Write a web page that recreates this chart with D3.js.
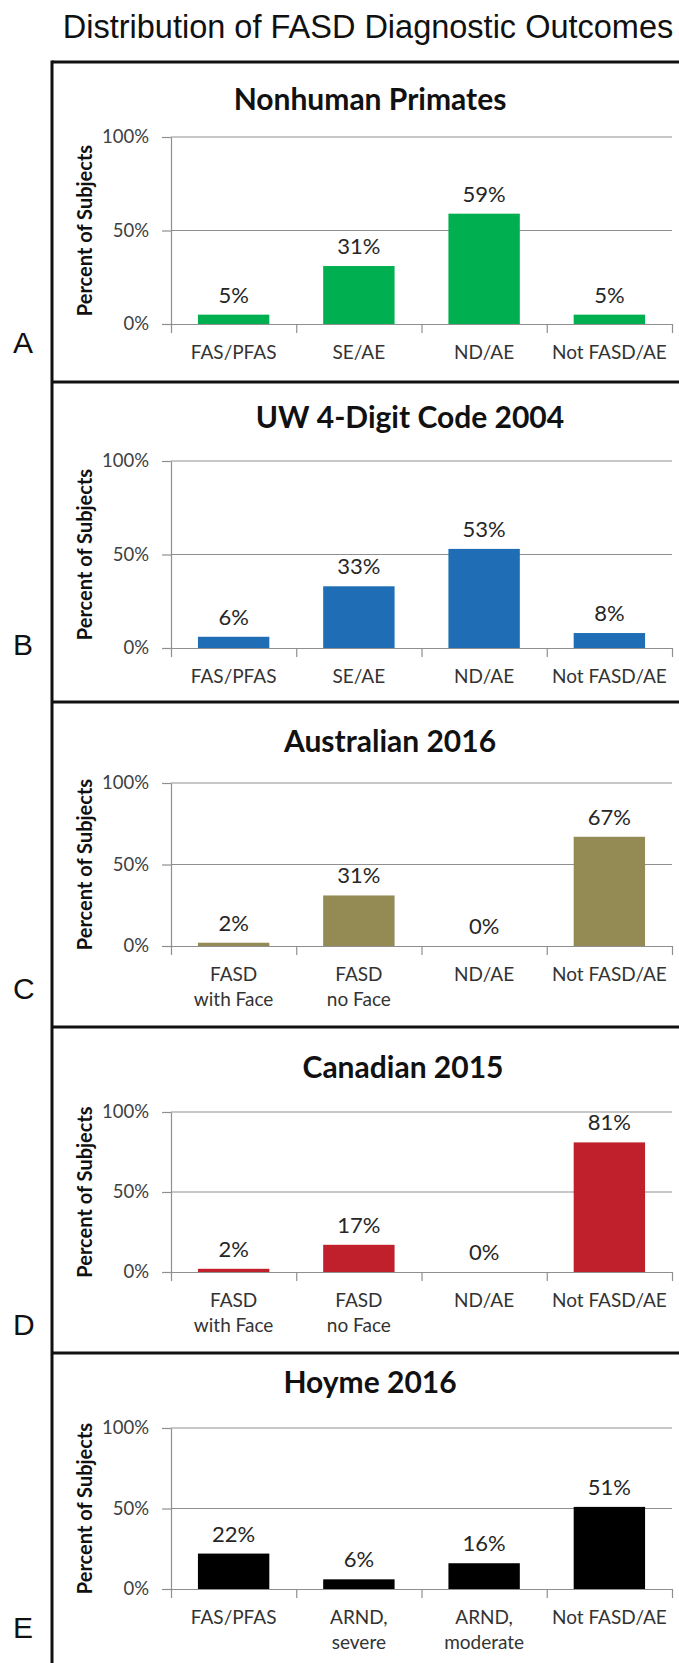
<!DOCTYPE html>
<html>
<head>
<meta charset="utf-8">
<script src="https://cdn.jsdelivr.net/npm/d3@7"></script>
<style>
  body { margin: 0; background: #fff; }
  svg { display: block; }
</style>
</head>
<body>
<script>
// data
const panelTitles = ["Nonhuman Primates", "UW 4-Digit Code 2004", "Australian 2016", "Canadian 2015", "Hoyme 2016"];
const panelLetters = ["A", "B", "C", "D", "E"];

const catsA = ["FAS/PFAS", "SE/AE", "ND/AE", "Not FASD/AE"];
const valsA = [5, 31, 59, 5];
const catsB = ["FAS/PFAS", "SE/AE", "ND/AE", "Not FASD/AE"];
const valsB = [6, 33, 53, 8];
const catsC = ["FASD\nwith Face", "FASD\nno Face", "ND/AE", "Not FASD/AE"];
const valsC = [2, 31, 0, 67];
const catsD = ["FASD\nwith Face", "FASD\nno Face", "ND/AE", "Not FASD/AE"];
const valsD = [2, 17, 0, 81];
const catsE = ["FAS/PFAS", "ARND,\nsevere", "ARND,\nmoderate", "Not FASD/AE"];
const valsE = [22, 6, 16, 51];

const barColors = ["#00b050", "#1f6db5", "#948a54", "#c01f2c", "#000000"];
const yTicks = [0, 50, 100];
const mainTitle = "Distribution of FASD Diagnostic Outcomes";
const yLabel = "Percent of Subjects";

const cats = [catsA, catsB, catsC, catsD, catsE];
const vals = [valsA, valsB, valsC, valsD, valsE];

// layout of each panel (pixels)
const layout = [
  {top: 137, bottom: 324, titleY: 110, titleX: 370, letterY: 353},
  {top: 461, bottom: 648, titleY: 428, titleX: 410, letterY: 655},
  {top: 783, bottom: 946, titleY: 752, titleX: 390, letterY: 999},
  {top: 1112, bottom: 1272, titleY: 1078, titleX: 403, letterY: 1335},
  {top: 1428, bottom: 1589, titleY: 1393, titleX: 370, letterY: 1638}
];
const separators = [382, 702, 1027, 1353];

var W = 679, H = 1663;
var plotLeft = 171, plotRight = 672;
var boxLeft = 52, boxTop = 62;
var font = "Lato, 'Open Sans', sans-serif";
var gridCol = "#8f8f8f";

var svg = d3.select('body')
    .append('svg')
    .attr('width', W)
    .attr('height', H);

svg.append('rect').attr('width', W).attr('height', H).attr('fill', '#fff');

svg.append('text')
    .attr('x', 368)
    .attr('y', 38)
    .attr('text-anchor', 'middle')
    .style('font-family', "'Liberation Sans', Arial, sans-serif")
    .style('font-size', '32.5px')
    .style('fill', '#111')
    .text(mainTitle);

// outer frame
svg.append('line').attr('x1', boxLeft).attr('x2', boxLeft).attr('y1', boxTop - 1.5).attr('y2', H)
    .style('stroke', '#111').style('stroke-width', 3);
svg.append('line').attr('x1', boxLeft).attr('x2', W).attr('y1', boxTop).attr('y2', boxTop)
    .style('stroke', '#111').style('stroke-width', 3);
separators.forEach((s)=>{
    svg.append('line').attr('x1', boxLeft).attr('x2', W).attr('y1', s).attr('y2', s)
        .style('stroke', '#111').style('stroke-width', 3);
});

layout.forEach((L, p)=>{
    let g = svg.append('g').attr('class', 'panel');
    let data = cats[p].map((c, i)=>({cat: c, val: vals[p][i]}));

    var yScale = d3.scaleLinear().domain([0, 100]).range([L.bottom, L.top]);
    var xScale = d3.scaleBand()
        .domain(cats[p])
        .range([plotLeft, plotRight])
        .paddingInner(0.43)
        .paddingOuter(0.215);
    var edge = d3.scaleLinear().domain([0, cats[p].length]).range([plotLeft, plotRight]);

    // gridlines
    g.selectAll('.grid')
        .data(yTicks.filter(t => t > 0))
        .enter().append('line')
        .attr('class', 'grid')
        .attr('x1', plotLeft).attr('x2', plotRight)
        .attr('y1', d => yScale(d)).attr('y2', d => yScale(d))
        .style('stroke', gridCol).style('stroke-width', 1.2);

    // y axis
    var yAxis = d3.axisLeft(yScale)
        .tickValues(yTicks)
        .tickFormat(d => d + '%')
        .tickSize(9)
        .tickSizeOuter(0)
        .tickPadding(13);
    var ya = g.append('g')
        .attr('transform', 'translate(' + plotLeft + ',0)')
        .call(yAxis);
    ya.select('.domain').style('stroke', gridCol).style('stroke-width', 1.2);
    ya.selectAll('line').style('stroke', gridCol).style('stroke-width', 1.2);
    ya.selectAll('text')
        .style('font-family', font).style('font-size', '18.5px').style('fill', '#404040');

    // x axis with ticks between categories
    var xAxis = d3.axisBottom(edge)
        .tickValues(d3.range(cats[p].length + 1))
        .tickFormat('')
        .tickSize(9)
        .tickSizeOuter(0);
    var xa = g.append('g')
        .attr('transform', 'translate(0,' + L.bottom + ')')
        .call(xAxis);
    xa.select('.domain').style('stroke', gridCol).style('stroke-width', 1.2);
    xa.selectAll('line').style('stroke', gridCol).style('stroke-width', 1.2);

    // bars
    g.selectAll('.bar')
        .data(data)
        .enter().append('rect')
        .attr('class', 'bar')
        .attr('x', d => xScale(d.cat))
        .attr('width', xScale.bandwidth())
        .attr('y', d => yScale(d.val))
        .attr('height', d => L.bottom - yScale(d.val))
        .style('fill', barColors[p]);

    // value labels
    g.selectAll('.val')
        .data(data)
        .enter().append('text')
        .attr('class', 'val')
        .attr('x', d => xScale(d.cat) + xScale.bandwidth() / 2)
        .attr('y', d => yScale(d.val) - 12)
        .attr('text-anchor', 'middle')
        .style('font-family', font).style('font-size', '22px').style('fill', '#262626')
        .text(d => d.val + '%');

    // category labels
    var cl = g.selectAll('.cat')
        .data(data)
        .enter().append('text')
        .attr('class', 'cat')
        .attr('text-anchor', 'middle')
        .attr('x', d => xScale(d.cat) + xScale.bandwidth() / 2)
        .attr('y', L.bottom + 35)
        .style('font-family', font).style('font-size', '19px').style('fill', '#333');
    cl.each(function(d){
        let lines = d.cat.split('\n');
        let t = d3.select(this);
        lines.forEach((ln, i)=>{
            t.append('tspan')
                .attr('x', xScale(d.cat) + xScale.bandwidth() / 2)
                .attr('dy', i === 0 ? 0 : 25)
                .text(ln);
        });
    });

    // panel title
    g.append('text')
        .attr('x', L.titleX)
        .attr('y', L.titleY)
        .attr('text-anchor', 'middle')
        .style('font-family', font).style('font-weight', 'bold')
        .style('font-size', '30px').style('fill', '#111')
        .text(panelTitles[p]);

    // y title
    g.append('text')
        .attr('transform', 'translate(92,' + ((L.top + L.bottom) / 2) + ') rotate(-90)')
        .attr('text-anchor', 'middle')
        .style('font-family', font).style('font-weight', 'bold')
        .style('font-size', '20px').style('fill', '#111')
        .text(yLabel);

    // panel letter
    svg.append('text')
        .attr('x', 13)
        .attr('y', L.letterY)
        .style('font-family', "'Liberation Sans', Arial, sans-serif")
        .style('font-size', '30px')
        .style('fill', '#111')
        .text(panelLetters[p]);
});
</script>
</body>
</html>
